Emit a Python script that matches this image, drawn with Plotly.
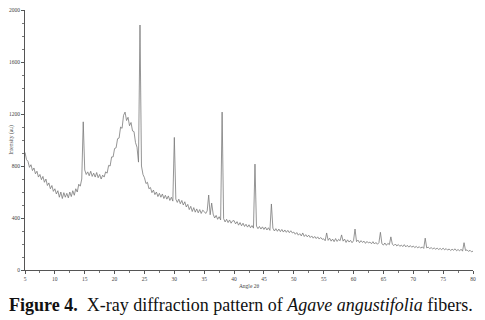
import plotly.graph_objects as go

angle_start = 5.0
angle_step = 0.25

intensity = [
    905, 850, 835, 790, 810, 765, 785, 740, 760, 715, 735, 695, 720, 675, 700, 650, 670, 625, 650, 605,
    625, 585, 610, 560, 600, 550, 595, 560, 590, 555, 600, 565, 610, 575, 625, 600, 660, 645, 700, 1140,
    770, 735, 755, 725, 760, 720, 745, 715, 750, 710, 735, 700, 730, 715, 755, 745, 805, 800, 870, 870,
    935, 940, 1010, 1015, 1100, 1090, 1190, 1215, 1150, 1175, 1110, 1135, 1070, 1065, 980, 945, 830, 1885, 800, 735,
    710, 665, 675, 625, 635, 595, 615, 580, 600, 565, 590, 560, 585, 550, 575, 545, 570, 535, 560, 530,
    1020, 545, 520, 545, 510, 535, 500, 525, 485, 505, 465, 490, 450, 480, 445, 470, 440, 465, 435, 460,
    450, 435, 455, 577, 425, 515, 430, 400, 420, 390, 410, 385, 1215, 395, 370, 390, 365, 385, 360, 378,
    380, 355, 372, 345, 365, 340, 360, 335, 352, 330, 348, 325, 342, 322, 815, 338, 318, 335, 315, 332,
    312, 330, 308, 325, 305, 508, 322, 300, 318, 298, 315, 295, 312, 292, 308, 290, 305, 287, 302, 285,
    292, 275, 288, 268, 280, 262, 285, 258, 272, 255, 268, 250, 262, 245, 258, 242, 255, 238, 250, 236,
    240, 225, 285, 228, 245, 222, 238, 218, 242, 220, 236, 225, 270, 222, 238, 212, 232, 215, 228, 210,
    225, 315, 218, 230, 210, 226, 212, 222, 205, 220, 208, 215, 202, 218, 200, 212, 198, 210, 290, 202,
    192, 208, 190, 205, 195, 255, 198, 188, 200, 185, 196, 182, 192, 180, 195, 178, 190, 176, 188, 175,
    185, 172, 182, 170, 180, 168, 178, 166, 245, 170, 176, 165, 172, 162, 170, 160, 168, 158, 166, 157,
    168, 155, 165, 153, 162, 150, 160, 152, 163, 148, 158, 147, 160, 145, 210, 150, 155, 143, 152, 140,
    145,
]
angle = [angle_start + i * angle_step for i in range(len(intensity))]

x_ticks = [5, 10, 15, 20, 25, 30, 35, 40, 45, 50, 55, 60, 65, 70, 75, 80]
y_ticks = [0, 400, 800, 1200, 1600, 2000]

fig = go.Figure()
fig.add_trace(go.Scatter(x=angle, y=intensity, mode="lines",
                         line=dict(color="#7a7a7a", width=0.8), showlegend=False))

axis_font = dict(family="Liberation Serif", size=5.5, color="#444")
fig.update_layout(
    width=477, height=312,
    margin=dict(l=17, r=12, t=2, b=50, autoexpand=False),
    paper_bgcolor="white", plot_bgcolor="white",
    xaxis=dict(range=[5, 80], tickvals=x_ticks, ticks="outside", ticklen=3,
               tickcolor="#555", showline=True, linecolor="#555", linewidth=1,
               showgrid=False, zeroline=False, tickfont=axis_font, automargin=False,
               ticklabeloverflow="allow",
               minor=dict(dtick=2.5, ticks="outside", ticklen=2, tickcolor="#777"),
               title=dict(text="Angle 2θ", font=axis_font, standoff=3)),
    yaxis=dict(range=[0, 2000.5], tickvals=y_ticks, ticks="outside", ticklen=3,
               tickcolor="#555", showline=True, linecolor="#555", linewidth=1,
               showgrid=False, zeroline=False, tickfont=axis_font, automargin=False,
               ticklabeloverflow="allow",
               minor=dict(dtick=100, ticks="outside", ticklen=2, tickcolor="#777"),
               title=dict(text="Intensity (au)", font=axis_font, standoff=3)),
)
fig.add_annotation(
    x=0.482, y=-0.135, xref="paper", yref="paper", xanchor="center", yanchor="middle",
    showarrow=False,
    text="<b>Figure 4.</b>  X-ray diffraction pattern of <i>Agave angustifolia</i> fibers.",
    font=dict(family="Liberation Serif", size=18, color="#111"),
)
fig.write_html("out.html")
